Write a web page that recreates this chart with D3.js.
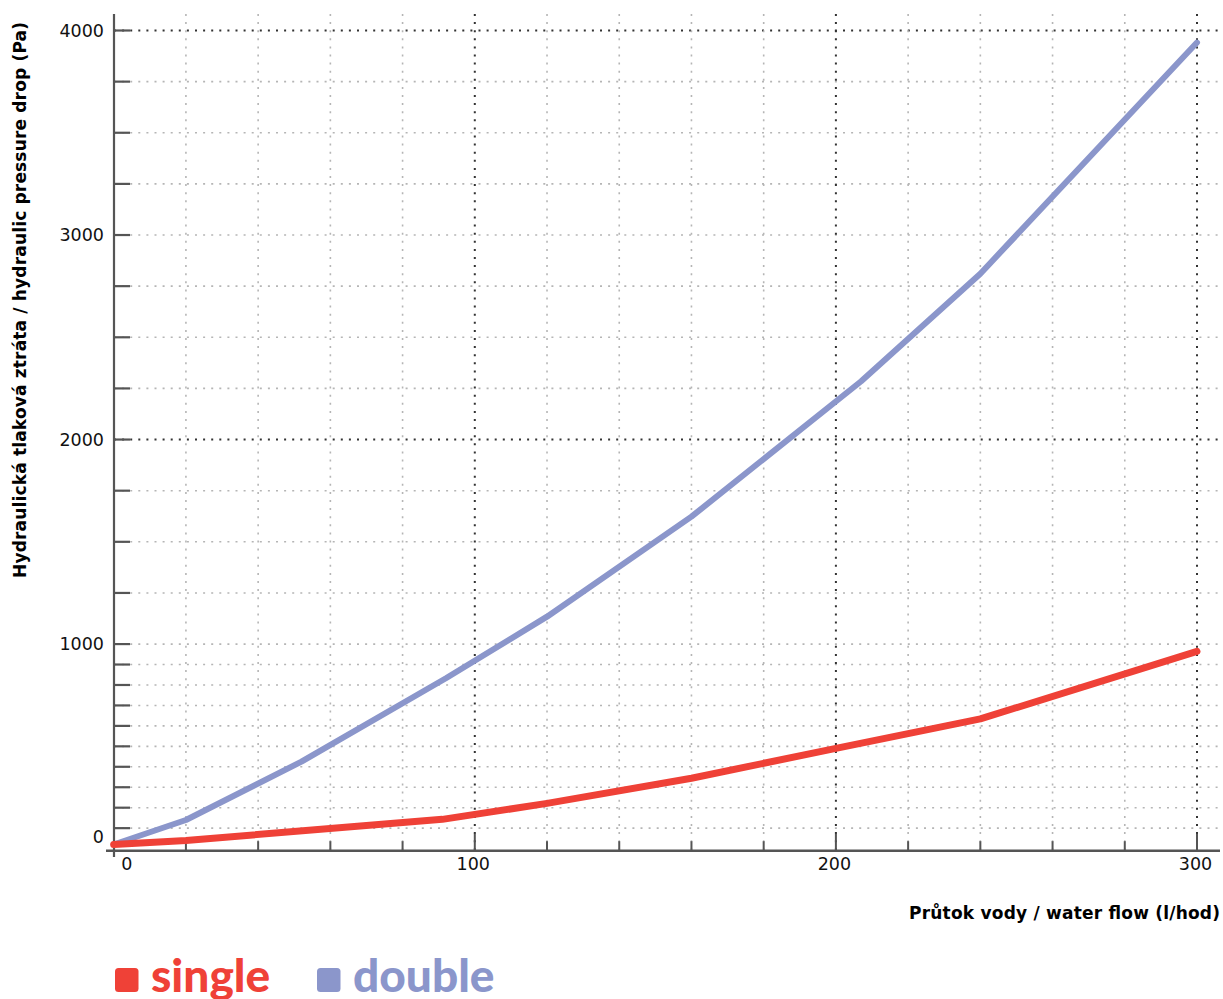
<!DOCTYPE html>
<html>
<head>
<meta charset="utf-8">
<script src="https://cdn.jsdelivr.net/npm/d3@7"></script>
<style>
  html, body { margin: 0; padding: 0; background: #fff; }
  svg { display: block; }
</style>
</head>
<body>
<svg id="chart" width="1223" height="999"></svg>
<script>
// ---- data ----
const singleFlow  = [0, 20, 91, 120, 160, 200, 240, 300];
const singleDrop  = [20, 40, 143, 221, 344, 490, 634, 964];
const doubleFlow  = [0, 20, 52, 92, 120, 160, 207, 240, 300];
const doubleDrop  = [20, 140, 425, 833, 1134, 1623, 2285, 2811, 3941];
const xTicks      = [0,20,40,60,80,100,120,140,160,180,200,220,240,260,280,300];
const xTickLabels = [0, 100, 200, 300];
const xDarkGrid   = [100, 200, 300];
const yTicks      = [0,100,200,300,400,500,600,700,800,900,1000,1250,1500,1750,2000,2250,2500,2750,3000,3250,3500,3750,4000];
const yTickLabels = [0, 1000, 2000, 3000, 4000];
const yDarkGrid   = [2000, 4000];
const seriesNames = ["single", "double"];
const seriesColors = ["#ef4137", "#8b96cb"];
const xTitle = "Průtok vody / water flow (l/hod)";
const yTitle = "Hydraulická tlaková ztráta / hydraulic pressure drop (Pa)";

// ---- layout ----
const svg = d3.select("#chart");
const x = d3.scaleLinear().domain([0, 300]).range([113.7, 1197]);
const y = d3.scaleLinear().domain([0, 4000]).range([848.6, 30.5]);
const plotTop = 14, plotRight = 1220, axisY = 850.7, axisX = 114;
const axisColor = "#555";
const tickFont = "'DejaVu Sans', 'Liberation Sans', Arial, sans-serif";
const titleFont = "'DejaVu Sans', 'Liberation Sans', Arial, sans-serif";

// ---- grid ----
const grid = svg.append("g");
grid.selectAll("line.hg").data(yTicks.filter(d => d > 0)).join("line")
  .attr("x1", axisX).attr("x2", plotRight)
  .attr("y1", d => y(d)).attr("y2", d => y(d))
  .attr("stroke", d => yDarkGrid.includes(d) ? "#333" : "#b5b5b5")
  .attr("stroke-width", d => yDarkGrid.includes(d) ? 2 : 1.6)
  .attr("stroke-dasharray", "2,6.1");
grid.selectAll("line.vg").data(xTicks.filter(d => d > 0)).join("line")
  .attr("x1", d => x(d)).attr("x2", d => x(d))
  .attr("y1", plotTop).attr("y2", axisY)
  .attr("stroke", d => xDarkGrid.includes(d) ? "#333" : "#b5b5b5")
  .attr("stroke-width", d => xDarkGrid.includes(d) ? 2 : 1.6)
  .attr("stroke-dasharray", "2,6.1");

// ---- axes ----
const ax = svg.append("g");
ax.append("line").attr("x1", axisX).attr("x2", axisX)
  .attr("y1", plotTop).attr("y2", 857)
  .attr("stroke", axisColor).attr("stroke-width", 2.2);
ax.append("line").attr("x1", 106).attr("x2", plotRight)
  .attr("y1", axisY).attr("y2", axisY)
  .attr("stroke", axisColor).attr("stroke-width", 2.5);

// y ticks (inward)
ax.selectAll("line.yt").data(yTicks.filter(d => d > 0)).join("line")
  .attr("x1", axisX).attr("x2", axisX + 16)
  .attr("y1", d => y(d)).attr("y2", d => y(d))
  .attr("stroke", axisColor).attr("stroke-width", 2.2);
// x ticks (inward)
ax.selectAll("line.xt").data(xTicks.filter(d => d > 0)).join("line")
  .attr("x1", d => x(d)).attr("x2", d => x(d))
  .attr("y1", axisY).attr("y2", d => axisY - (d % 100 === 0 ? 17 : 9.5))
  .attr("stroke", axisColor).attr("stroke-width", 2);

// tick labels
ax.selectAll("text.yl").data(yTickLabels).join("text")
  .attr("x", 104)
  .attr("y", d => y(d) - (d === 0 ? 12 : 0))
  .attr("dy", "0.36em")
  .attr("text-anchor", "end")
  .attr("font-family", tickFont).attr("font-size", 17.5).attr("fill", "#111")
  .text(d => d);
ax.selectAll("text.xl").data(xTickLabels).join("text")
  .attr("x", d => x(d) + (d === 0 ? 13 : -1.5))
  .attr("y", 864)
  .attr("dy", "0.36em")
  .attr("text-anchor", "middle")
  .attr("font-family", tickFont).attr("font-size", 17.5).attr("fill", "#111")
  .text(d => d);

// axis titles
svg.append("text")
  .attr("x", 1220).attr("y", 919)
  .attr("text-anchor", "end")
  .attr("font-family", titleFont).attr("font-weight", "bold").attr("font-size", 17)
  .attr("textLength", 311).attr("lengthAdjust", "spacing")
  .attr("fill", "#000")
  .text(xTitle);
svg.append("text")
  .attr("transform", "translate(26,22) rotate(-90)")
  .attr("text-anchor", "end")
  .attr("font-family", titleFont).attr("font-weight", "bold").attr("font-size", 17)
  .attr("textLength", 556).attr("lengthAdjust", "spacing")
  .attr("fill", "#000")
  .text(yTitle);

// ---- lines ----
const line = d3.line().x(d => x(d[0])).y(d => y(d[1]));
const seriesData = [
  d3.zip(singleFlow, singleDrop),
  d3.zip(doubleFlow, doubleDrop)
];
const widths = [7, 6];
[1, 0].forEach(i => {
  svg.append("path")
    .datum(seriesData[i])
    .attr("d", line)
    .attr("fill", "none")
    .attr("stroke", seriesColors[i])
    .attr("stroke-width", widths[i])
    .attr("stroke-linejoin", "round")
    .attr("stroke-linecap", "round");
});

// ---- legend ----
const legendX = [115, 317];
const lg = svg.append("g");
seriesNames.forEach((name, i) => {
  lg.append("rect")
    .attr("x", legendX[i]).attr("y", 968)
    .attr("width", 23.5).attr("height", 24)
    .attr("rx", 3.5)
    .attr("fill", seriesColors[i]);
  lg.append("text")
    .attr("x", legendX[i] + 36).attr("y", 992)
    .attr("font-family", "Lato, 'Noto Sans', sans-serif")
    .attr("font-weight", 900).attr("font-size", 46)
    .attr("fill", seriesColors[i])
    .text(name);
});
</script>
</body>
</html>
